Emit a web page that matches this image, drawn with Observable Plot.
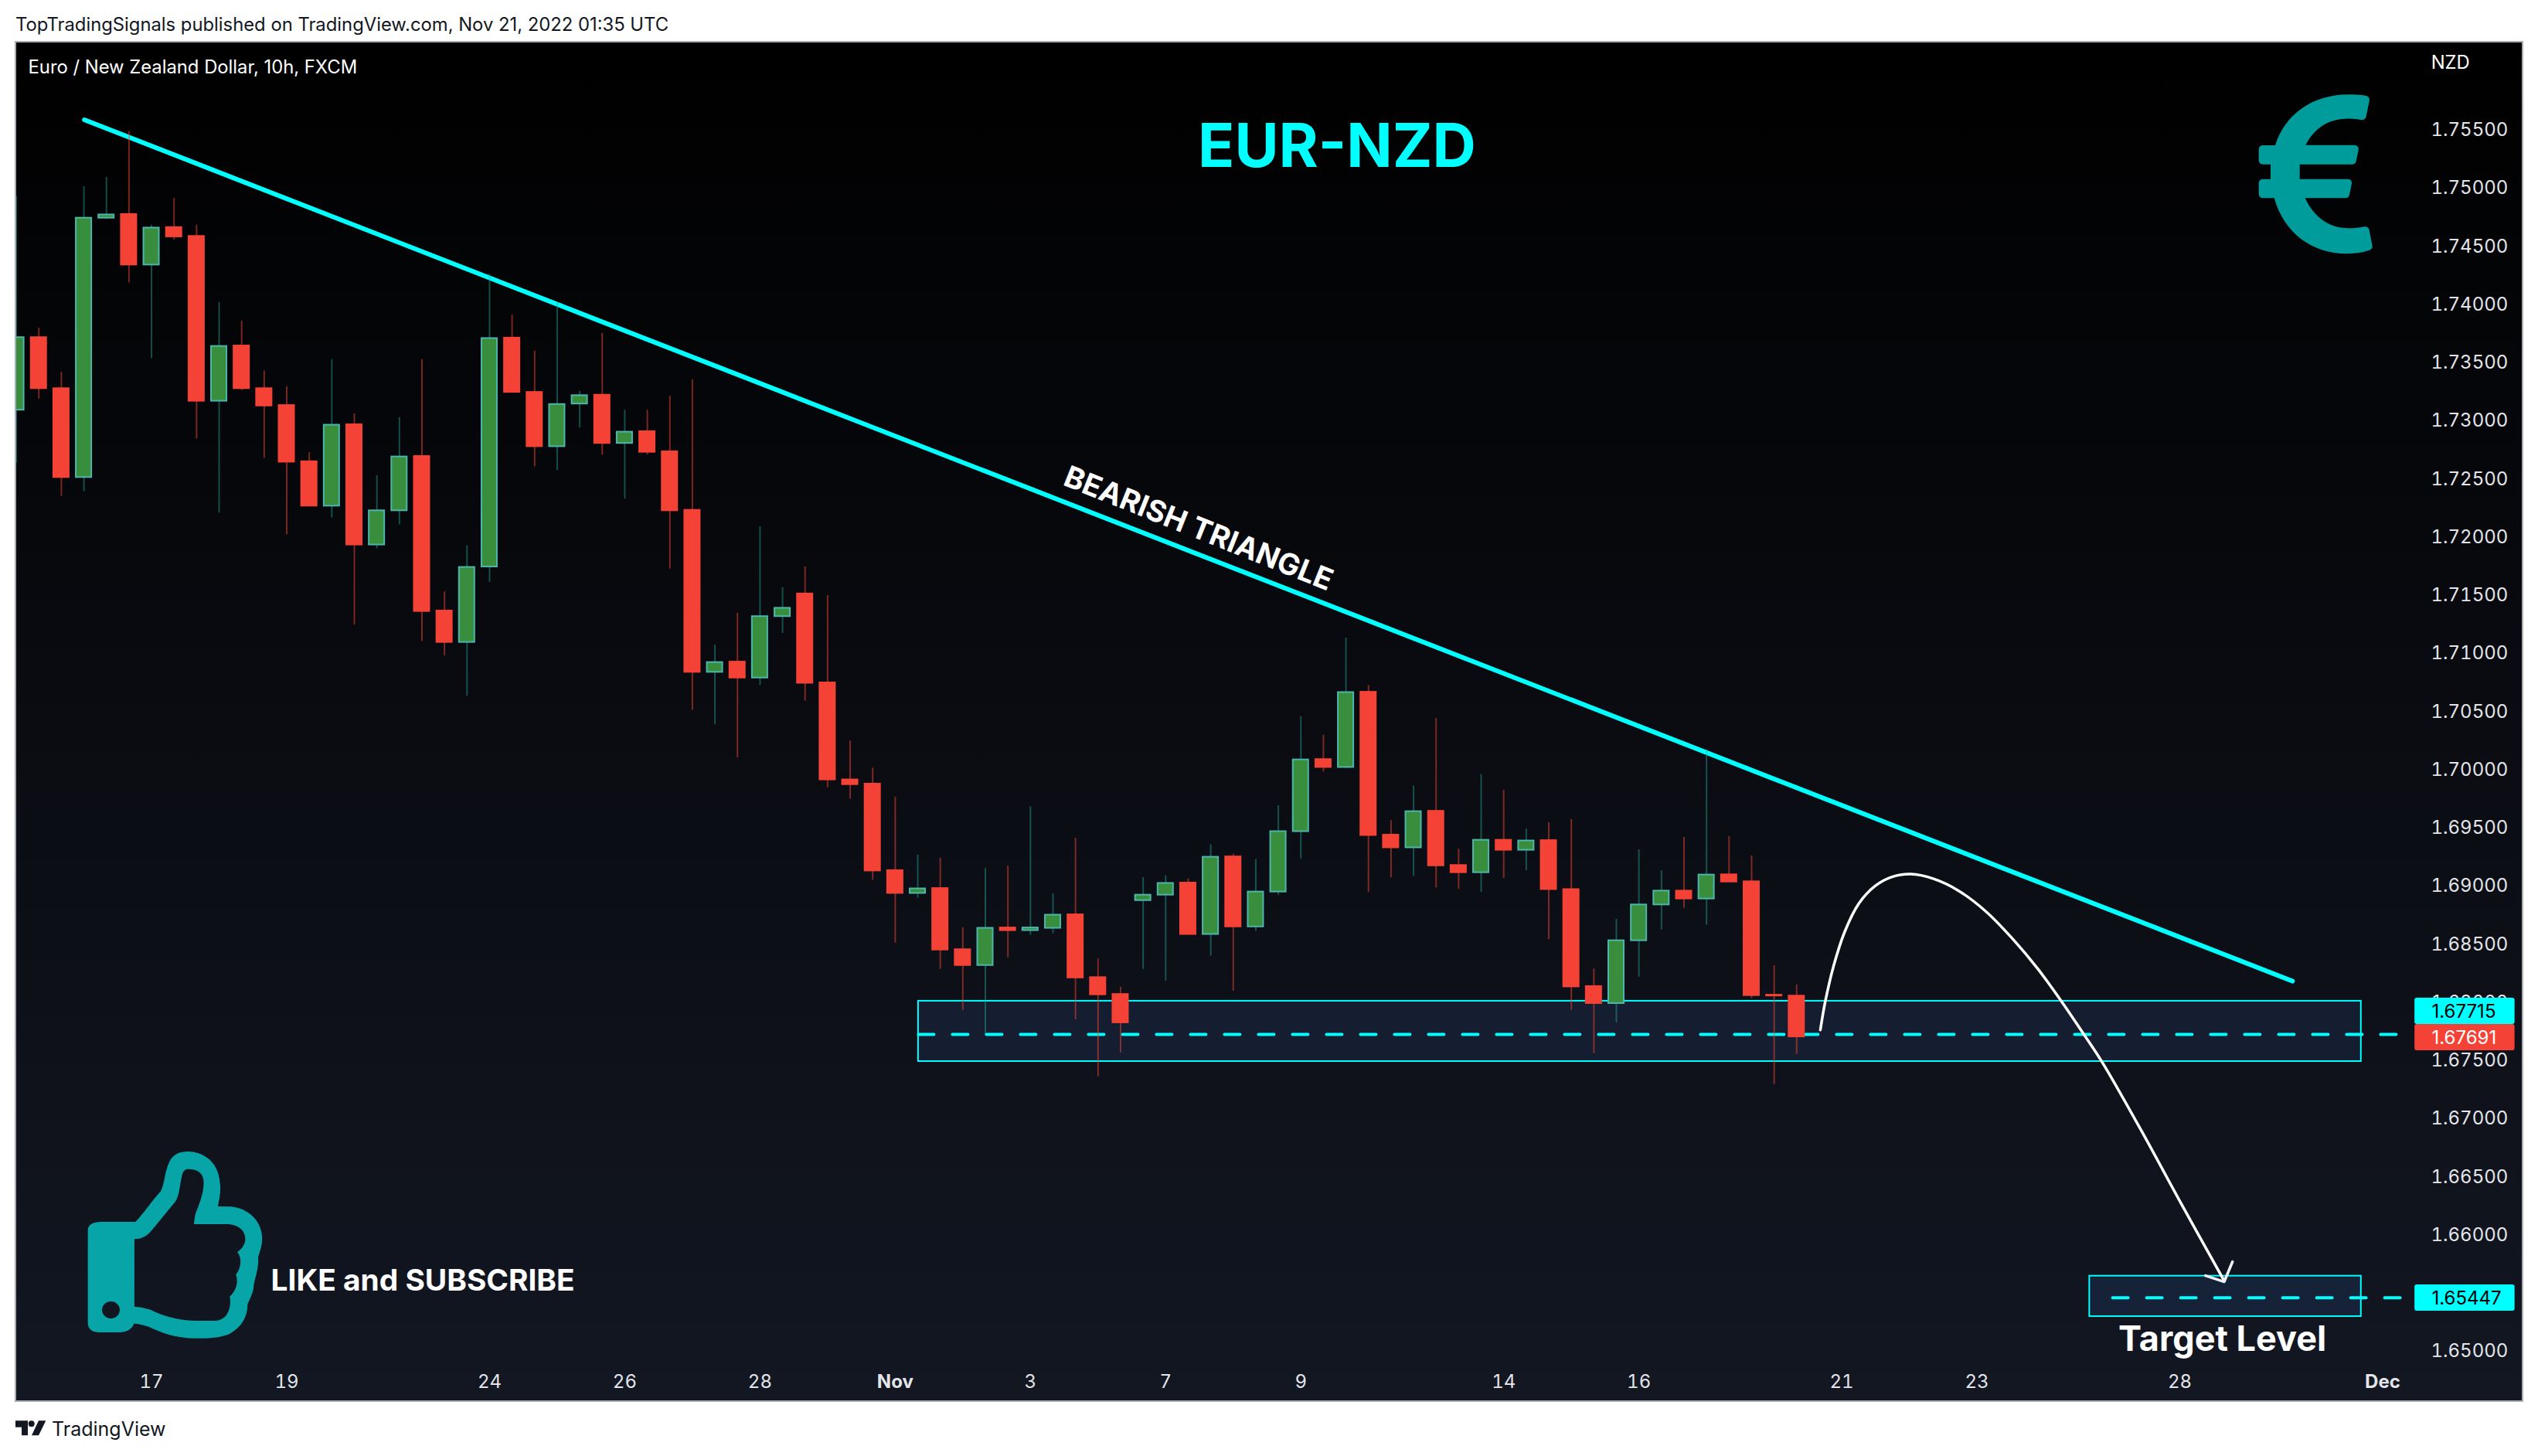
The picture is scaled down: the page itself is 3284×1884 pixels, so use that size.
<!DOCTYPE html>
<html>
<head>
<meta charset="utf-8">
<title>EUR-NZD</title>
<script src="https://cdn.jsdelivr.net/npm/d3@7"></script>
<script src="https://cdn.jsdelivr.net/npm/@observablehq/plot@0.6"></script>
<style>
  html,body{margin:0;padding:0;background:#fff;width:3284px;height:1884px;overflow:hidden;font-family:Inter,"Liberation Sans",sans-serif;}
  #head{height:54px;padding-left:20px;line-height:63px;font-size:23.8px;color:#131722;white-space:nowrap;}
  #chart{margin-left:20px;width:3244px;height:1759px;}
  #chart svg{display:block;}
  #foot{position:absolute;left:67px;top:1832px;font-size:25px;line-height:34px;color:#131722;}
  .ico{position:absolute;display:block;}
</style>
</head>
<body>
<div id="head">TopTradingSignals published on TradingView.com, Nov 21, 2022 01:35 UTC</div>
<div id="chart"></div>
<div id="foot">TradingView</div>
<svg class="ico" style="left:10px;top:1825px" width="240" height="50" viewBox="0 0 720 150" preserveAspectRatio="none">
  <path fill="#131722" d="M30 40H78V97H54V65H30Z M120 40H148L120 97H93Z"/><circle cx="92" cy="52" r="12" fill="#131722"/>
</svg>
<svg class="ico" style="left:0;top:1400px" width="900" height="484" viewBox="0 0 1568 1452" preserveAspectRatio="none">
  <path fill="#08a5a8" fill-rule="evenodd" d="M228 543L305 543C320 520 345 455 362 425C372 395 370 345 385 300C395 275 410 270 425 270C460 272 490 310 495 380C499 420 495 450 491 483L520 484C560 490 590 540 591 605C591 640 585 660 582 680C584 720 575 760 572 790C572 820 560 850 558 865C558 900 550 950 515 980C490 995 470 995 440 995C400 995 365 975 335 950C320 942 310 938 302 938C298 960 285 972 265 972L225 972C205 972 198 955 198 935L198 575C198 555 210 543 228 543Z
  M303 610C325 610 335 590 345 570L395 465C405 440 405 400 410 365C412 345 418 338 425 338C445 338 458 355 459 385C460 430 450 470 440 515L437 552L515 552C540 555 553 580 553 610C553 630 545 650 535 660C545 680 545 720 532 748C538 780 532 810 518 833C522 870 515 925 485 927L440 927C395 925 365 905 340 885C325 877 312 873 303 873Z
  M230 885A20 33 0 1 0 270 885A20 33 0 1 0 230 885Z"/>
</svg>
<svg class="ico" style="left:2900px;top:0" width="384" height="400" viewBox="0 0 1152 1200" role="img" aria-label="Euro symbol">
  <path fill="#009c9c" d="M415 367C445 367 470 368 488 373C496 376 499 382 497 392L485 452C482 462 474 467 465 465C445 461 425 460 405 461C340 463 285 495 250 563L440 563C452 564 457 572 455 582L446 626C444 634 438 638 430 638L227 638L227 695L415 695C426 696 430 703 429 712L420 757C418 765 412 769 405 769L248 769C280 840 340 886 415 886C435 886 455 884 478 880C488 879 495 884 497 893L509 955C510 963 506 968 498 971C470 980 440 985 410 985C270 985 165 900 128 769L85 769C74 769 68 762 68 752L68 712C68 702 74 695 85 695L114 695L114 638L85 638C74 638 68 631 68 621L68 581C68 571 74 564 85 564L132 564C170 445 275 367 415 367Z"/>
</svg>
<script>
const openP = [1.73080,1.73704,1.73265,1.72501,1.74731,1.74763,1.74328,1.74650,1.74574,1.73157,1.73632,1.73265,1.73120,1.72637,1.72255,1.72955,1.71921,1.72215,1.72682,1.71353,
  1.71083,1.71732,1.73700,1.73233,1.72766,1.73133,1.73209,1.72794,1.72895,1.72722,1.72219,1.70826,1.70914,1.70777,1.71305,1.71500,1.70735,1.69901,1.69865,1.69121,
  1.68925,1.68967,1.68441,1.68305,1.68628,1.68605,1.68625,1.68741,1.68201,1.68056,1.68863,1.68910,1.69014,1.68572,1.69239,1.68637,1.68937,1.69456,1.70076,1.70008,
  1.70655,1.69426,1.69317,1.69631,1.69165,1.69103,1.69382,1.69296,1.69379,1.68958,1.68124,1.67978,1.68518,1.68826,1.68945,1.68877,1.69085,1.69025,1.68050,1.68042];
const closeP = [1.73704,1.73265,1.72501,1.74731,1.74759,1.74328,1.74646,1.74570,1.73157,1.73628,1.73265,1.73116,1.72633,1.72255,1.72951,1.71921,1.72215,1.72678,1.71349,1.71083,
  1.71728,1.73696,1.73233,1.72766,1.73129,1.73205,1.72794,1.72891,1.72718,1.72215,1.70826,1.70910,1.70777,1.71305,1.71377,1.70732,1.69901,1.69860,1.69118,1.68925,
  1.68964,1.68438,1.68305,1.68625,1.68605,1.68628,1.68738,1.68198,1.68053,1.67812,1.68910,1.69011,1.68572,1.69236,1.68637,1.68937,1.69456,1.70073,1.70008,1.70652,
  1.69423,1.69317,1.69628,1.69162,1.69103,1.69382,1.69296,1.69376,1.68958,1.68121,1.67978,1.68518,1.68826,1.68945,1.68877,1.69083,1.69023,1.68046,1.68043,1.67691];
const highP = [1.74920,1.73785,1.73406,1.75001,1.75081,1.75476,1.74671,1.74900,1.74671,1.74006,1.73845,1.73418,1.73282,1.72714,1.73515,1.73048,1.72517,1.73016,1.73515,1.71518,
  1.71913,1.74248,1.73898,1.73588,1.74006,1.73241,1.73741,1.73080,1.73080,1.73201,1.73342,1.71059,1.71333,1.72078,1.71554,1.71732,1.71486,1.70236,1.70002,1.69753,
  1.69254,1.69228,1.68628,1.69139,1.69159,1.69670,1.68922,1.69400,1.68361,1.68118,1.69061,1.69079,1.69050,1.69343,1.69263,1.69216,1.69679,1.70444,1.70284,1.71121,
  1.70714,1.69551,1.69848,1.70429,1.69305,1.69946,1.69812,1.69480,1.69533,1.69560,1.68275,1.68702,1.69300,1.69120,1.69406,1.70162,1.69413,1.69247,1.68303,1.68137];
const lowP = [1.72625,1.73177,1.72339,1.72380,1.74719,1.74175,1.73523,1.74542,1.72831,1.72195,1.73249,1.72666,1.72009,1.72255,1.72154,1.71232,1.71889,1.72094,1.71091,1.70967,
  1.70620,1.71599,1.73233,1.72593,1.72561,1.72927,1.72694,1.72315,1.72694,1.71715,1.70500,1.70375,1.70091,1.70713,1.71160,1.70578,1.69833,1.69735,1.69038,1.68498,
  1.68883,1.68272,1.67919,1.67717,1.68373,1.68566,1.68578,1.67839,1.67349,1.67554,1.68272,1.68171,1.68566,1.68385,1.68085,1.68599,1.68910,1.69222,1.69969,1.69999,
  1.68934,1.69061,1.69073,1.68972,1.68961,1.68934,1.69053,1.69121,1.68527,1.67919,1.67548,1.67812,1.68206,1.68611,1.68797,1.68651,1.69016,1.68020,1.67282,1.67541];

const priceTicks = [1.65,1.66,1.665,1.67,1.675,1.68,1.685,1.69,1.695,1.7,1.705,1.71,1.715,1.72,1.725,1.73,1.735,1.74,1.745,1.75,1.755];
const dayTickBars = [6,12,21,27,33,45,51,57,66,72,81,87,96];
const dayTickText = ["17","19","24","26","28","3","7","9","14","16","21","23","28"];
const monthTickBars = [39,105];
const monthTickText = ["Nov","Dec"];

const trendBars = [3.02,101], trendPrices = [1.75576,1.68170];
const curveBars = [80.05,80.27,80.64,81.13,81.75,82.48,83.21,84.07,85.05,86.16,87.38,88.60,89.70,90.75,91.73,92.55,94.24,96.07,97.97];
const curvePrices = [1.6775,1.67996,1.68301,1.68594,1.68835,1.68988,1.69065,1.6909,1.69051,1.6895,1.68772,1.6853,1.68276,1.67996,1.67716,1.67475,1.66903,1.66254,1.65593];
const arrowBars = [97.14,97.97,98.34], arrowPrices = [1.65638,1.65585,1.65758];

const candles = openP.map((o,i)=>({i,o,c:closeP[i],h:highP[i],l:lowP[i],up:closeP[i]>=o}));
const pts = (xs,ys)=>xs.map((x,k)=>({x,y:ys[k]}));
const dayLabel = new Map(dayTickBars.map((b,k)=>[b,dayTickText[k]]));
const monthLabel = new Map(monthTickBars.map((b,k)=>[b,monthTickText[k]]));
const RED="#f44336", GREEN="#388e3c", TEAL="#4db6ac", CY="#00ffff", HALF=0.343;
const tags=[
  {y1:1.68024,y2:1.67798,y:1.67911,t:"1.67715",f:CY,c:"#000"},
  {y1:1.67798,y2:1.67572,y:1.67685,t:"1.67691",f:RED,c:"#fff"},
  {y1:1.65558,y2:1.65333,y:1.65447,t:"1.65447",f:CY,c:"#000"}
];
const note=(t,x,y,o)=>Plot.text([t],{x:()=>x,y:()=>y,text:d=>d,dy:1,...o});

const chart = Plot.plot({
  width:3244,height:1759,marginLeft:0,marginRight:134,marginTop:0,marginBottom:60,
  x:{type:"linear",domain:[-0.02,106.63],axis:null},
  y:{type:"linear",domain:[1.64954,1.76244],axis:null},
  style:{background:"linear-gradient(#000000 0%,#131722 100%)",outline:"2px solid #a9acb5",outlineOffset:"-1px",fontFamily:"Inter,sans-serif"},
  marks:[
    Plot.axisY({anchor:"right",ticks:priceTicks,tickSize:0,tickPadding:15,tickFormat:d3.format(".5f"),fontSize:24,dy:2,color:"#e3e5ea",label:null}),
    Plot.axisX({anchor:"bottom",ticks:dayTickBars,tickSize:0,tickPadding:23,tickFormat:d=>dayLabel.get(d),fontSize:24,dy:2,color:"#e3e5ea",label:null}),
    Plot.axisX({anchor:"bottom",ticks:monthTickBars,tickSize:0,tickPadding:23,tickFormat:d=>monthLabel.get(d),fontSize:24,dy:2,fontWeight:700,color:"#e3e5ea",label:null}),
    Plot.rect([0],{x1:()=>40.03,x2:()=>104.05,y1:()=>1.67998,y2:()=>1.67479,fill:"#141e30",stroke:CY,strokeWidth:2}),
    Plot.rect([0],{x1:()=>92.0,x2:()=>104.05,y1:()=>1.65634,y2:()=>1.65286,fill:"#162238",stroke:CY,strokeWidth:2}),
    Plot.line(pts([40.03,105.6],[1.67712,1.67712]),{x:"x",y:"y",stroke:CY,strokeWidth:4,strokeDasharray:"20 24"}),
    Plot.line(pts([93.02,105.78],[1.65447,1.65447]),{x:"x",y:"y",stroke:CY,strokeWidth:4,strokeDasharray:"20 24"}),
    Plot.line(pts(trendBars,trendPrices),{x:"x",y:"y",stroke:CY,strokeWidth:6}),
    Plot.ruleX(candles,{x:"i",y1:"l",y2:"h",stroke:d=>d.up?"#26a69a":RED,strokeOpacity:d=>d.up?0.45:0.5,strokeWidth:2}),
    Plot.rect(candles,{x1:d=>d.i-HALF,x2:d=>d.i+HALF,y1:"o",y2:"c",fill:d=>d.up?GREEN:RED,stroke:d=>d.up?TEAL:RED,strokeWidth:2}),
    Plot.line(pts(curveBars,curvePrices),{x:"x",y:"y",stroke:"#fff",strokeWidth:3.5,curve:"catmull-rom"}),
    Plot.line(pts(arrowBars,arrowPrices),{x:"x",y:"y",stroke:"#f0f3fa",strokeWidth:3.5}),
    Plot.rect(tags,{x1:()=>106.43,x2:()=>110.87,y1:"y1",y2:"y2",fill:"f",r:3}),
    Plot.text(tags,{x:()=>107.18,y:"y",dy:1,text:"t",fill:"c",textAnchor:"start",fontSize:24}),
    note("EUR-NZD",58.6,1.75347,{fill:CY,fontSize:78,fontWeight:700,dy:2}),
    note("BEARISH TRIANGLE",52.45,1.72058,{fill:"#fff",fontSize:38.5,fontWeight:700,rotate:21.8,dy:0}),
    note("LIKE and SUBSCRIBE",11.3,1.65598,{fill:"#fff",fontSize:38.8,fontWeight:700,textAnchor:"start"}),
    note("Target Level",97.89,1.65100,{fill:"#fff",fontSize:45,fontWeight:700,dy:2}),
    note("Euro / New Zealand Dollar, 10h, FXCM",0.53,1.76035,{fill:"#fff",fontSize:23.8,textAnchor:"start"}),
    note("NZD",107.15,1.76071,{fill:"#fff",fontSize:23.8,textAnchor:"start"})
  ]
});
document.getElementById("chart").append(chart);
</script>
</body>
</html>
